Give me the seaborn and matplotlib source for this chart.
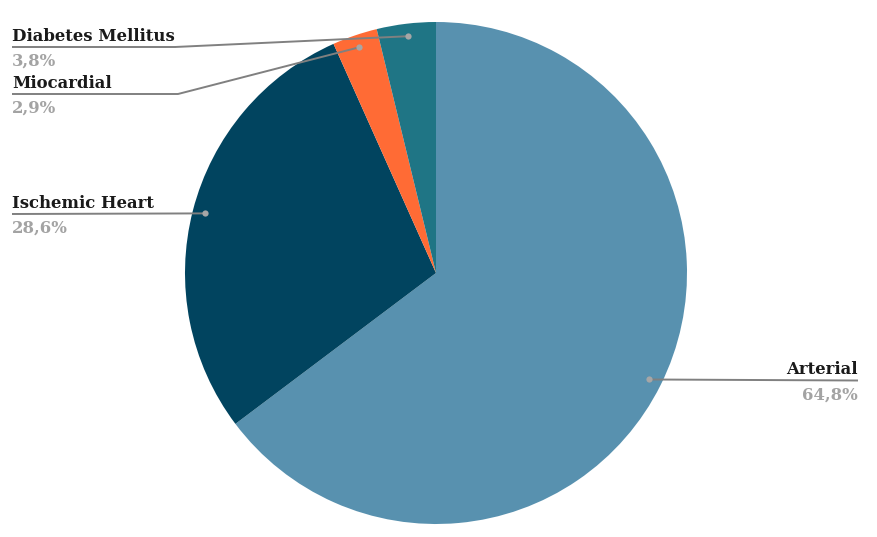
import numpy as np
import seaborn as sns
import matplotlib.pyplot as plt

labels = ["Arterial", "Ischemic Heart", "Miocardial", "Diabetes Mellitus"]
shares = [64.8, 28.6, 2.9, 3.8]
pct_labels = ["64,8%", "28,6%", "2,9%", "3,8%"]
colors = ["#5891AF", "#01445F", "#FF6B35", "#1F7585"]

sns.set_style("white")
plt.rcParams['font.family'] = ['DejaVu Serif']

W, H = 878, 537
fig = plt.figure(figsize=(W / 100, H / 100), dpi=100)
ax = fig.add_axes([0, 0, 1, 1])

cx, cy, R = 436, 273, 251
# y axis goes down (pixel-like), so counterclock=True draws clockwise on screen
wedges, _ = ax.pie(shares, colors=colors, startangle=-90, counterclock=True,
                   center=(cx, cy), radius=R, wedgeprops=dict(linewidth=0))
ax.set_xlim(0, W)
ax.set_ylim(H, 0)
ax.axis('off')

# label layout: (text x, line y, elbow x, align)
layout = {
    "Arterial": (858, 380.5, None, 'right'),
    "Ischemic Heart": (12, 214, None, 'left'),
    "Miocardial": (12, 94, 178, 'left'),
    "Diabetes Mellitus": (12, 47, 175, 'left'),
}

for w, name, pct in zip(wedges, labels, pct_labels):
    mid = np.deg2rad((w.theta1 + w.theta2) / 2)
    dx = cx + 0.95 * R * np.cos(mid)
    dy = cy + 0.95 * R * np.sin(mid)
    tx, ly, ex, ha = layout[name]
    if ex is None:
        xs, ys = [tx, dx], [ly, dy]
    else:
        xs, ys = [tx, ex, dx], [ly, ly, dy]
    ax.plot(xs, ys, color='#808080', lw=1.4, solid_capstyle='butt')
    ax.plot(dx, dy, 'o', color='#A6A6A6', ms=4.5, mec='none')
    ax.text(tx, ly - 6.5, name, ha=ha, va='baseline', fontsize=11.9,
            fontweight='bold', color='#1A1A1A')
    ax.text(tx, ly + 19, pct, ha=ha, va='baseline', fontsize=11.9,
            fontweight='bold', color='#A3A3A3')

fig.savefig('out.png', dpi=100, facecolor='white')
